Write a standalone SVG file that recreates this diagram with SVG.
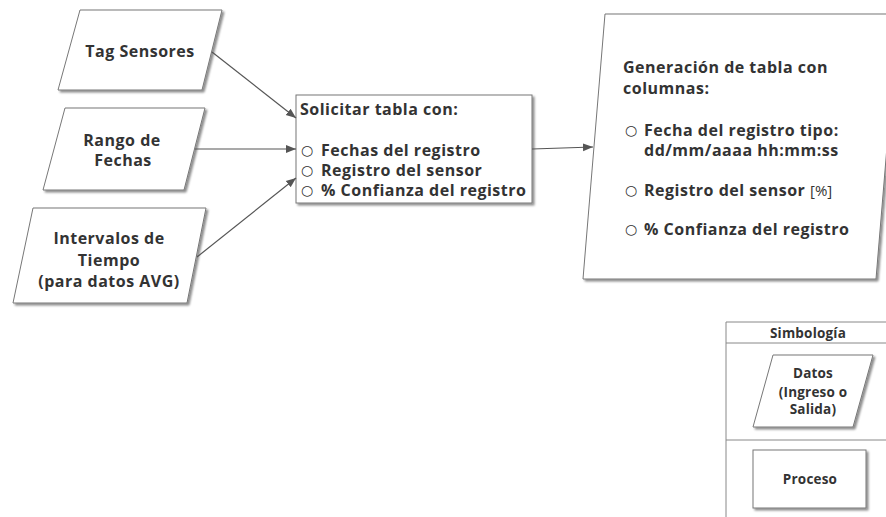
<svg xmlns="http://www.w3.org/2000/svg" width="886" height="517" viewBox="0 0 886 517">
<defs>
<filter id="sh" x="-10%" y="-10%" width="130%" height="130%">
<feDropShadow dx="2" dy="2" stdDeviation="1" flood-color="#000" flood-opacity="0.45"/>
</filter>
<marker id="ah" viewBox="0 0 10 10" refX="10" refY="5" markerWidth="10" markerHeight="10" markerUnits="userSpaceOnUse" orient="auto">
<path d="M0,1 L10,5 L0,9 Z" fill="#555"/>
</marker>
</defs>
<style>
.shape{fill:#fff;stroke:#777;stroke-width:1;filter:url(#sh)}
.t{font-family:"Open Sans","Noto Sans",sans-serif;font-weight:700;font-size:16px;letter-spacing:0.5px;fill:#333}
.c{text-anchor:middle}
.b{font-family:"DejaVu Sans",sans-serif;font-weight:400;font-size:14px;fill:#333}
.s{font-size:13.5px;letter-spacing:0.2px}
.conn line{stroke:#555;stroke-width:1.2;marker-end:url(#ah)}
.leg{stroke:#888;stroke-width:1;fill:none}
</style>
<rect width="886" height="517" fill="#fff"/>

<g id="tag-sensores">
<polygon class="shape" points="80,10 222,10 202,90 58,90"/>
<text class="t c" x="140" y="57">Tag Sensores</text>
</g>

<g id="rango-fechas">
<polygon class="shape" points="65,108 205,108 184,190 43,190"/>
<text class="t c" x="122" y="146">Rango de</text>
<text class="t c" x="123" y="166">Fechas</text>
</g>

<g id="intervalos">
<polygon class="shape" points="33,208 206,208 187,303 13,303"/>
<text class="t c" x="109" y="244">Intervalos de</text>
<text class="t c" x="109" y="266">Tiempo</text>
<text class="t c" x="109" y="287">(para datos AVG)</text>
</g>

<g id="solicitar">
<rect class="shape" x="296" y="95" width="236" height="108"/>
<text class="t" x="300" y="115">Solicitar tabla con:</text>
<text class="b" x="301" y="155">○</text>
<text class="t" x="321" y="156">Fechas del registro</text>
<text class="b" x="301" y="175">○</text>
<text class="t" x="321" y="176">Registro del sensor</text>
<text class="b" x="301" y="195">○</text>
<text class="t" x="321" y="196">% Confianza del registro</text>
</g>

<g id="generacion">
<polygon class="shape" points="605,14 898,14 876,279 583,279"/>
<text class="t" x="623" y="73">Generación de tabla con</text>
<text class="t" x="623" y="94">columnas:</text>
<text class="b" x="625" y="135">○</text>
<text class="t" x="644" y="136">Fecha del registro tipo:</text>
<text class="t" x="644" y="156">dd/mm/aaaa hh:mm:ss</text>
<text class="b" x="625" y="195">○</text>
<text class="t" x="644" y="196">Registro del sensor <tspan style="font-weight:400;font-size:15px;letter-spacing:0">[%]</tspan></text>
<text class="b" x="625" y="234">○</text>
<text class="t" x="644" y="235">% Confianza del registro</text>
</g>

<g id="connectors" class="conn">
<line x1="212" y1="52" x2="296" y2="118"/>
<line x1="195" y1="149" x2="296" y2="149"/>
<line x1="197" y1="257" x2="296" y2="178"/>
<line x1="532" y1="149" x2="593" y2="147"/>
</g>

<g id="simbologia">
<path class="leg" d="M726,517 V322 H886 M726,343 H886 M726,440 H886"/>
<text class="t c s" x="808" y="338">Simbología</text>
</g>

<g id="leg-datos">
<polygon class="shape" points="773,355 873,355 853,427 753,427"/>
<text class="t c s" x="813" y="378">Datos</text>
<text class="t c s" x="813" y="397">(Ingreso o</text>
<text class="t c s" x="813" y="414">Salida)</text>
</g>

<g id="leg-proceso">
<rect class="shape" x="753" y="450" width="113" height="58"/>
<text class="t c s" x="810" y="484">Proceso</text>
</g>
</svg>
